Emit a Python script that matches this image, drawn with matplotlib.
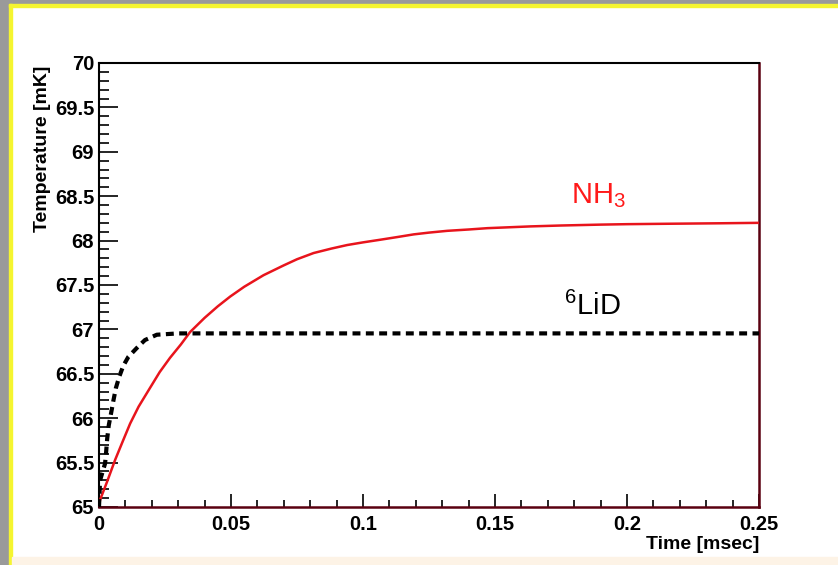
import matplotlib.pyplot as plt
from matplotlib.patches import Rectangle
from matplotlib.ticker import MultipleLocator

plt.rcParams["font.family"] = ["Liberation Sans", "DejaVu Sans"]
plt.rcParams["mathtext.default"] = "regular"

# NH3 curve (red, solid)
nh3_t = [0, 0.0004, 0.003, 0.0061, 0.009, 0.0118, 0.015, 0.0193, 0.023, 0.0269, 0.031,
         0.0345, 0.04, 0.045, 0.0497, 0.055, 0.0623, 0.0699, 0.075, 0.0813, 0.088,
         0.094, 0.1, 0.1066, 0.113, 0.1192, 0.125, 0.1319, 0.14, 0.1471, 0.1635,
         0.175, 0.19, 0.2, 0.2166, 0.235, 0.25]
nh3_T = [65.0, 65.08, 65.28, 65.53, 65.74, 65.94, 66.13, 66.34, 66.52, 66.68, 66.83,
         66.97, 67.13, 67.26, 67.37, 67.48, 67.61, 67.72, 67.79, 67.86, 67.91,
         67.95, 67.98, 68.01, 68.04, 68.07, 68.09, 68.11, 68.125, 68.14, 68.16,
         68.17, 68.18, 68.185, 68.19, 68.195, 68.2]

# 6LiD curve (black, dashed)
lid_t = [0, 0.0004, 0.0023, 0.0027, 0.0031, 0.0037, 0.0046, 0.0054, 0.0064, 0.0077,
         0.0092, 0.0111, 0.0143, 0.0174, 0.0219, 0.03, 0.25]
lid_T = [65.0, 65.3, 65.49, 65.62, 65.77, 65.92, 66.06, 66.19, 66.34, 66.47,
         66.59, 66.69, 66.79, 66.88, 66.94, 66.955, 66.955]

fig = plt.figure(figsize=(8.38, 5.65), dpi=100)
fig.patch.set_facecolor("white")

# slide frame: grey edge + yellow line
fig.patches.append(Rectangle((0, 0), 9 / 838, 1, transform=fig.transFigure,
                             color="#9a9a9a", zorder=0))
fig.patches.append(Rectangle((0, 1 - 4 / 565), 1, 4 / 565, transform=fig.transFigure,
                             color="#9a9a9a", zorder=0))
fig.patches.append(Rectangle((9 / 838, 0), 3 / 838, 1 - 4 / 565, transform=fig.transFigure,
                             color="#f5f530", zorder=1))
fig.patches.append(Rectangle((9 / 838, 1 - 7 / 565), 1, 3 / 565, transform=fig.transFigure,
                             color="#f5f530", zorder=1))
fig.patches.append(Rectangle((12 / 838, 0), 1, 8 / 565, transform=fig.transFigure,
                             color="#fdf3e6", zorder=1))

ax = fig.add_axes([99 / 838, 1 - 507 / 565, 660 / 838, 444 / 565])

ax.plot(nh3_t, nh3_T, color="#e8141c", lw=1.8, zorder=3)
ax.plot(lid_t, lid_T, color="black", lw=3, dashes=(1.9, 1.3), zorder=3)

ax.set_xlim(0, 0.25)
ax.set_ylim(65, 70)

ax.xaxis.set_major_locator(MultipleLocator(0.05))
ax.xaxis.set_minor_locator(MultipleLocator(0.01))
ax.yaxis.set_major_locator(MultipleLocator(0.5))
ax.yaxis.set_minor_locator(MultipleLocator(0.1))
ax.set_xticks([0, 0.05, 0.1, 0.15, 0.2, 0.25])
ax.set_xticklabels(["0", "0.05", "0.1", "0.15", "0.2", "0.25"])
ax.set_yticks([65, 65.5, 66, 66.5, 67, 67.5, 68, 68.5, 69, 69.5, 70])
ax.set_yticklabels(["65", "65.5", "66", "66.5", "67", "67.5", "68", "68.5", "69", "69.5", "70"])

ax.tick_params(axis="both", which="both", direction="in", top=False, right=False,
               width=1.2, colors="black")
ax.tick_params(axis="y", which="major", length=13.5, pad=3.5)
ax.tick_params(axis="y", which="minor", length=7.5)
ax.tick_params(axis="x", which="major", length=9.5, pad=6)
ax.tick_params(axis="x", which="minor", length=5)
for lab in ax.get_xticklabels() + ax.get_yticklabels():
    lab.set_fontsize(14.5)
    lab.set_fontweight("bold")

for side in ["left", "top"]:
    ax.spines[side].set_color("black")
    ax.spines[side].set_linewidth(1.5)
for side in ["bottom", "right"]:
    ax.spines[side].set_color("#5a0010")
    ax.spines[side].set_linewidth(1.8)

ax.set_xlabel("Time [msec]", fontsize=14, fontweight="bold", loc="right")
ax.xaxis.set_label_coords(1.0, -0.066)
ax.set_ylabel("Temperature [mK]", fontsize=14, fontweight="bold", loc="top")
ax.yaxis.set_label_coords(-0.072, 0.995)

ax.text(0.1787, 68.51, r"NH$_3$", color="#ff1a1a", fontsize=21, va="center", ha="left")
ax.text(0.176, 67.26, r"$^6$LiD", color="black", fontsize=21, va="center", ha="left")

plt.savefig("out.png", dpi=100, facecolor=fig.get_facecolor())
